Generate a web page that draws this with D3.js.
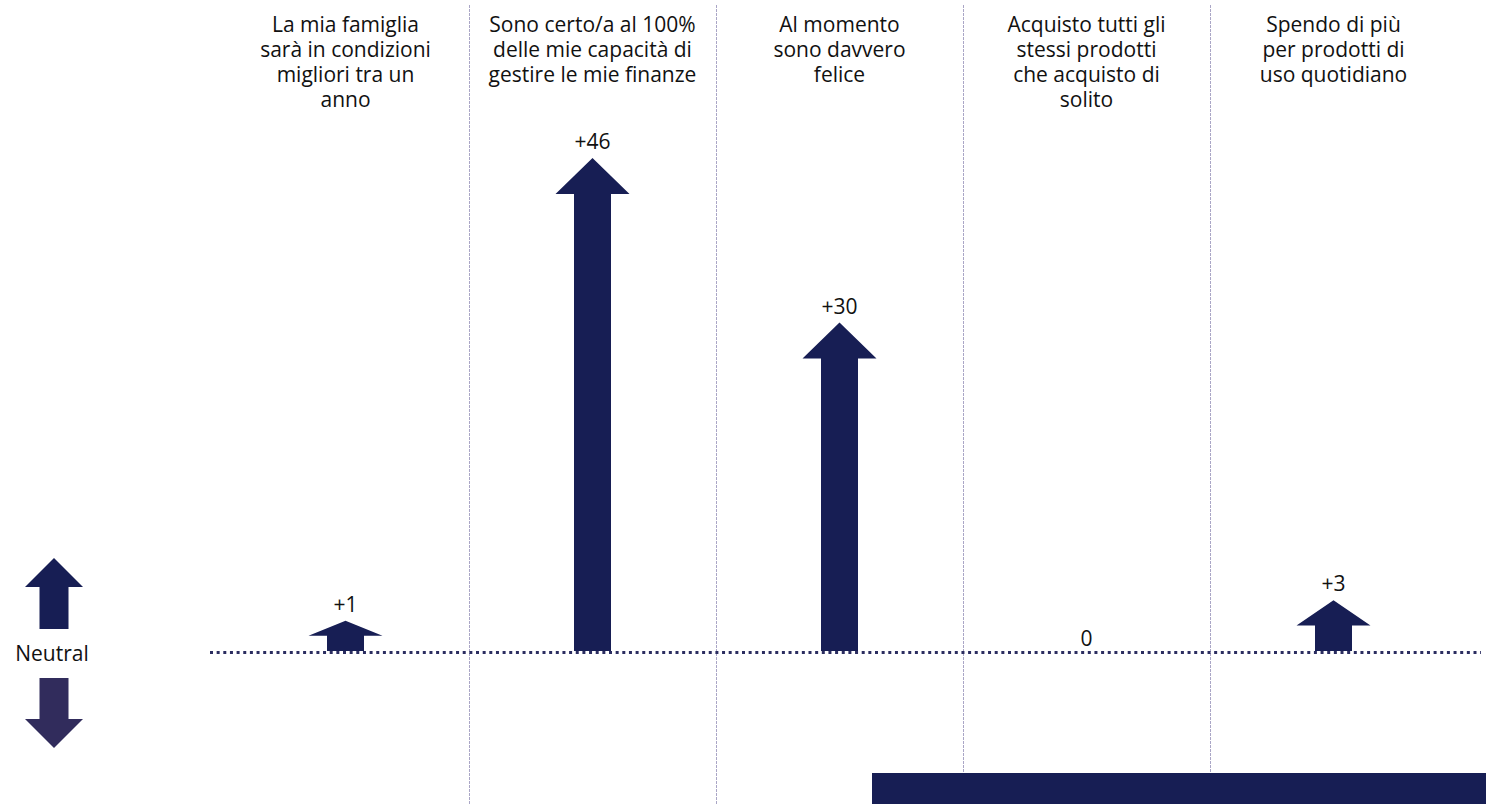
<!DOCTYPE html>
<html>
<head>
<meta charset="utf-8">
<script src="https://cdn.jsdelivr.net/npm/d3@7/dist/d3.min.js"></script>
<style>
  html, body { margin: 0; padding: 0; background: #ffffff; }
  svg { display: block; font-family: "Open Sans", "Noto Sans", sans-serif; }
</style>
</head>
<body>
<svg id="chart" width="1486" height="804"></svg>
<script>
// Statement headers (one entry per column, pre-broken into lines)
const categories = [
  ["La mia famiglia", "sarà in condizioni", "migliori tra un", "anno"],
  ["Sono certo/a al 100%", "delle mie capacità di", "gestire le mie finanze"],
  ["Al momento", "sono davvero", "felice"],
  ["Acquisto tutti gli", "stessi prodotti", "che acquisto di", "solito"],
  ["Spendo di più", "per prodotti di", "uso quotidiano"]
];
// Net change vs. neutral for each statement
const values = [1, 46, 30, 0, 3];
const valueLabels = ["+1", "+46", "+30", "0", "+3"];
const neutralLabel = "Neutral";

const W = 1486, H = 804;
const FONT = 21;
const TEXT = "#111111";
const svg = d3.select("#chart");

const ARROW = "#171e54";
const ARROW_DOWN = "#312c5c";

const x = d3.scaleBand()
  .domain(d3.range(categories.length))
  .range([222, 1457])
  .paddingInner(0).paddingOuter(0);

// arrow tip position for a value
const y = d3.scaleLinear().domain([0, 46]).range([631, 158]);
const arrowBottom = 651;
const neutralY = 652.5;

// column dividers
const dividers = d3.range(1, categories.length).map(i => x(i));
svg.append("g").selectAll("line").data(dividers).join("line")
  .attr("x1", d => d + 0.5).attr("x2", d => d + 0.5)
  .attr("y1", 5).attr("y2", H)
  .attr("stroke", "#aaa6c6").attr("stroke-width", 1)
  .attr("stroke-dasharray", "3 1");

// headers
const header = svg.append("g").attr("font-size", FONT).attr("fill", TEXT).attr("text-anchor", "middle");
categories.forEach((lines, i) => {
  const cx = x(i) + x.bandwidth() / 2;
  const t = header.append("text").attr("x", cx).attr("y", 32);
  lines.forEach((ln, k) => {
    t.append("tspan").attr("x", cx).attr("dy", k === 0 ? 0 : 25).text(ln);
  });
});

// neutral dotted baseline
svg.append("line")
  .attr("x1", 210).attr("x2", 1481)
  .attr("y1", neutralY).attr("y2", neutralY)
  .attr("stroke", "#2b2d60").attr("stroke-width", 3)
  .attr("stroke-dasharray", "3 3.65");

function upArrow(cx, tip, bottom, headHalf, shaftHalf, headMax) {
  const headH = Math.min(headMax, (bottom - tip) / 2);
  return d3.line()([
    [cx, tip], [cx + headHalf, tip + headH], [cx + shaftHalf, tip + headH],
    [cx + shaftHalf, bottom], [cx - shaftHalf, bottom], [cx - shaftHalf, tip + headH],
    [cx - headHalf, tip + headH]
  ]) + "Z";
}
function downArrow(cx, top, tip, headHalf, shaftHalf, headH) {
  return d3.line()([
    [cx - shaftHalf, top], [cx + shaftHalf, top], [cx + shaftHalf, tip - headH],
    [cx + headHalf, tip - headH], [cx, tip], [cx - headHalf, tip - headH],
    [cx - shaftHalf, tip - headH]
  ]) + "Z";
}

const data = values.map((v, i) => ({ v, i, label: valueLabels[i] }));
const marks = svg.append("g");
marks.selectAll("path").data(data.filter(d => d.v > 0)).join("path")
  .attr("d", d => upArrow(x(d.i) + x.bandwidth() / 2, y(d.v), arrowBottom, 37, 18.5, 36))
  .attr("fill", ARROW);

marks.selectAll("text").data(data).join("text")
  .attr("x", d => x(d.i) + x.bandwidth() / 2)
  .attr("y", d => d.v > 0 ? y(d.v) - 9 : 646)
  .attr("text-anchor", "middle")
  .attr("font-size", FONT)
  .attr("fill", TEXT)
  .text(d => d.label);

// legend: up / neutral / down
const leg = svg.append("g");
leg.append("path").attr("d", upArrow(54, 558, 629, 29, 14.5, 29)).attr("fill", ARROW);
leg.append("path").attr("d", downArrow(54, 678, 748, 29, 14.5, 29)).attr("fill", ARROW_DOWN);
leg.append("text").attr("x", 52).attr("y", 661).attr("text-anchor", "middle")
  .attr("font-size", FONT).attr("fill", TEXT).text(neutralLabel);

// footer band
svg.append("rect").attr("x", 872).attr("y", 773).attr("width", W - 872).attr("height", H - 773)
  .attr("fill", ARROW);
</script>
</body>
</html>
